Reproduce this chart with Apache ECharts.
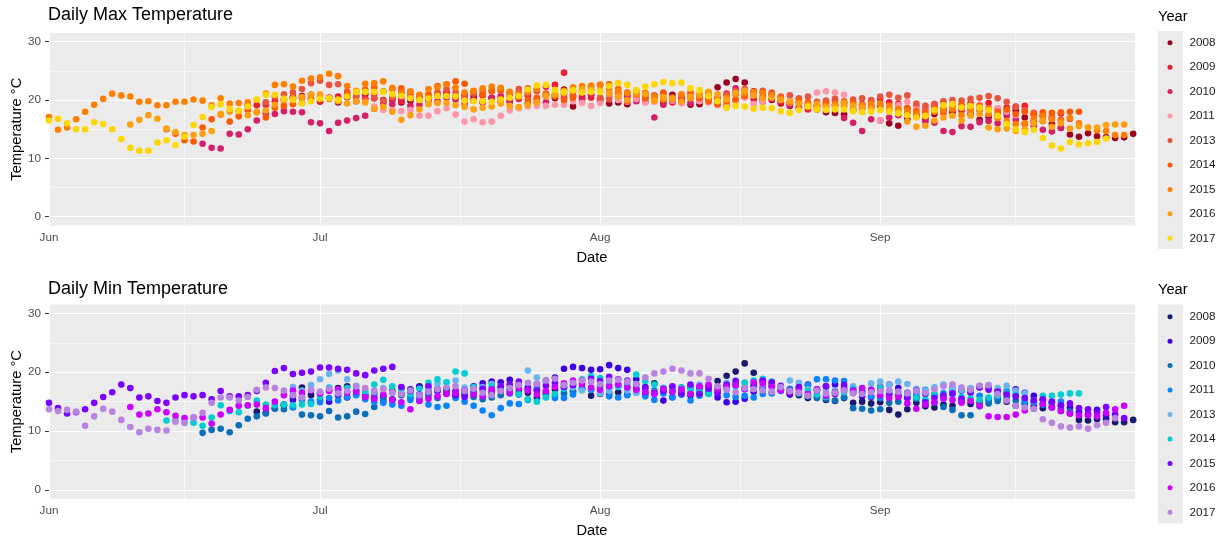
<!DOCTYPE html>
<html><head><meta charset="utf-8">
<script src="https://cdn.jsdelivr.net/npm/echarts@6/dist/echarts.min.js"></script>
<style>html,body{margin:0;padding:0;background:#fff}#c{width:1231px;height:541px}</style>
</head><body><div id="c"></div>
<script>
// Day index: 0 = 1 Jun, 30 = 1 Jul, 61 = 1 Aug, 92 = 1 Sep
const years = ['2008','2009','2010','2011','2013','2014','2015','2016','2017'];
const monthTicks = [0, 30, 61, 92];
const monthLabels = ['Jun', 'Jul', 'Aug', 'Sep'];
const tempTicks = [0, 10, 20, 30];

// ---- Daily max temperature (values start at the given start day) ----
const maxStartDay = [26, 22, 17, 36, 24, 13, 0, 9, 0];
const max2008 = [20.1,20.5,20.7,20.9,
 19.8,20.4,19.6,20.5,19.8,21.0,20.3,20.0,20.1,19.6,
 19.9,20.7,20.0,21.0,21.2,20.4,20.9,20.6,19.7,20.3,
 19.8,19.7,20.6,19.4,19.6,20.8,20.3,21.8,18.9,20.4,
 20.9,19.8,19.4,19.6,19.3,20.2,19.7,20.7,19.6,20.9,
 20.2,19.2,19.3,21.2,22.2,23.0,23.6,23.0,21.5,20.1,
 20.0,19.4,19.0,19.5,18.9,18.4,17.9,17.8,17.5,18.3,
 18.6,18.9,18.8,16.0,15.6,16.7,17.2,16.8,17.6,18.3,
 17.9,18.5,17.6,16.6,17.1,17.4,17.8,18.2,17.0,16.3,
 16.4,15.9,15.2,14.1,13.7,14.3,13.8,13.6,13.5,13.6,14.2];
const max2009 = [19.1,19.1,19.2,19.8,20.0,20.3,20.4,20.2,
 19.7,20.4,20.6,20.9,20.7,20.3,21.1,19.5,20.1,19.8,
 20.4,20.7,20.3,20.9,21.3,20.6,20.2,20.0,20.8,20.4,
 20.2,20.7,21.2,20.8,21.8,22.3,22.6,24.7,21.5,20.6,
 20.4,20.0,21.2,20.4,20.8,20.5,20.2,19.9,20.3,19.6,
 20.0,20.4,20.6,20.1,19.2,19.0,19.9,20.5,20.1,20.6,
 20.2,19.6,19.1,18.7,18.4,19.0,18.8,19.9,19.4,18.3,
 19.3,19.8,20.2,19.6,19.3,18.6,18.9,18.5,19.0,18.5,
 19.1,18.2,19.4,18.3,19.5,18.5,18.7,18.9,19.0,17.6,
 17.2,16.9,17.7,16.8];
const max2010 = [12.5,11.8,11.7,
 14.2,14.1,15.0,16.5,17.7,17.6,18.1,18.0,17.9,16.2,
 16.0,14.7,16.1,16.5,16.9,17.3,18.5,19.7,19.3,20.3,
 19.0,19.2,20.2,19.8,20.4,20.1,19.4,19.9,19.6,20.4,
 20.7,19.9,20.2,20.9,20.1,19.6,20.8,20.4,20.7,20.0,
 20.9,20.3,20.7,21.2,20.5,19.8,20.7,17.0,19.2,19.8,
 20.4,19.5,20.0,20.7,20.3,21.1,22.0,21.6,20.8,19.7,
 21.0,19.9,19.3,18.6,19.1,18.9,19.5,19.1,16.9,16.1,
 14.7,16.7,16.5,17.0,17.4,17.8,17.5,16.3,16.1,14.7,
 14.5,15.5,15.4,16.2,16.4,16.0,17.3,16.6,15.9,15.5,
 14.9,14.6,15.3];
const max2011 = [18.9,18.3,18.3,18.1,
 18.3,17.3,17.3,18.1,18.6,17.5,16.3,16.7,16.2,16.3,
 17.3,18.2,18.6,18.9,19.0,19.0,19.2,19.2,19.8,19.5,
 19.0,19.5,20.3,20.0,19.7,20.2,19.6,19.7,20.2,19.9,
 19.4,20.3,19.8,19.6,19.1,19.5,19.8,20.4,19.3,19.8,
 20.6,20.1,19.5,19.9,19.6,21.3,21.5,21.3,20.9,19.6,
 19.2,18.9,16.5,18.3,19.1,19.7,18.6,18.8,19.4,19.6,
 19.4,19.0,18.7,19.2,18.5,18.6,18.0,17.4];
const max2013 = [19.6,20.6,21.0,21.3,21.9,22.9,
 23.3,22.6,22.7,21.4,20.6,20.0,20.3,19.9,20.5,21.4,
 20.9,20.0,20.6,21.3,21.9,21.3,20.6,21.1,21.5,21.7,
 21.6,21.3,21.9,22.0,21.5,21.1,20.7,21.0,20.8,21.3,
 21.7,20.4,20.1,20.9,19.8,21.1,21.2,20.8,21.3,20.1,
 20.6,21.4,21.0,21.0,20.3,20.9,21.5,21.9,21.1,21.6,
 21.3,20.6,20.8,20.3,20.6,19.7,19.9,20.2,19.8,20.1,
 20.3,20.0,20.6,20.9,20.4,20.8,19.4,19.0,19.3,19.8,
 20.0,19.9,20.2,20.4,20.7,20.3,19.7,18.8,18.3,17.8,
 17.4,17.0,16.6];
const max2014 = [15.0,14.2,13.1,12.9,15.3,16.7,17.5,
 16.3,17.2,18.3,17.9,17.0,18.7,19.0,19.3,19.5,20.1,
 20.6,20.2,19.9,21.0,21.4,21.8,22.2,21.5,21.9,22.0,
 21.4,20.7,21.0,22.4,22.7,23.2,22.8,21.5,20.9,21.5,
 21.8,21.2,20.5,20.1,20.4,21.0,20.6,20.0,20.4,21.6,
 22.3,22.6,22.7,21.9,21.3,21.6,20.3,20.0,21.1,20.4,
 19.8,20.8,20.3,19.8,19.3,19.7,20.1,20.7,20.9,21.3,
 20.9,20.4,19.6,19.9,19.6,18.9,19.4,19.1,18.9,19.6,
 19.1,18.7,19.3,18.5,18.2,18.6,18.1,17.9,18.6,17.7,
 18.4,19.2,18.3,19.0,18.5,18.0,18.4,17.6,18.0,17.5,
 17.9,17.8,17.9,18.0,18.0];
const max2015 = [17.1,14.9,15.3,16.7,18.0,19.2,20.2,21.1,20.8,20.6,
 19.7,19.8,19.1,19.1,19.7,19.7,20.1,19.9,19.1,20.3,
 19.4,19.5,19.6,20.0,21.1,22.6,22.7,22.3,23.3,23.7,
 23.9,24.5,24.1,22.4,21.6,22.8,22.9,23.2,22.1,21.2,
 21.5,20.9,21.9,22.2,22.7,22.1,21.3,21.6,22.0,22.3,
 22.1,21.4,21.0,21.3,21.9,20.8,20.9,21.6,22.2,22.4,
 22.5,22.6,22.0,21.5,21.2,20.9,21.1,20.6,20.1,20.4,
 21.0,20.3,20.8,20.5,20.0,20.4,20.9,21.2,21.4,21.2,
 20.8,20.2,19.7,19.5,19.3,19.1,19.0,19.3,19.6,19.2,
 19.0,19.3,19.4,19.0,18.5,18.1,17.6,17.2,18.0,18.4,
 18.7,17.4,18.1,18.3,17.6,16.9,16.4,15.9,16.0,16.8,
 17.2,16.7,16.4,16.9,16.0,15.3,14.8,14.7,14.0,14.0];
const max2016 = [15.8,16.6,17.4,16.8,15.1,14.5,14.0,14.0,14.2,14.7,17.6,
 18.0,18.1,17.4,17.9,18.2,19.2,20.0,20.3,20.5,20.9,
 21.0,20.3,19.8,19.4,19.8,19.6,18.5,18.8,18.0,16.6,
 17.4,18.4,19.3,19.5,19.5,19.1,18.8,18.4,18.7,18.9,
 19.4,19.0,18.8,19.2,19.6,20.6,21.0,21.2,21.6,21.9,
 21.8,21.6,21.1,20.6,20.0,21.3,21.0,19.9,20.5,20.2,
 19.7,20.5,20.9,21.4,21.0,20.1,21.2,21.6,20.8,20.3,
 20.4,20.0,19.8,19.4,18.9,19.3,18.7,18.9,19.4,19.0,
 18.7,18.5,18.4,18.3,17.8,16.3,15.4,15.6,16.5,17.0,
 17.3,16.5,17.3,17.6,15.3,15.0,15.1,14.7,15.0,16.0,
 16.4,15.4,16.0,15.1,15.5,15.3,15.3,15.7,15.8,15.8];
const max2017 = [16.5,16.8,16.0,15.0,15.0,16.2,15.9,15.0,13.3,11.8,
 11.3,11.3,12.7,13.1,12.3,13.7,15.7,17.1,18.8,19.3,
 18.5,18.2,18.9,20.1,20.9,20.9,20.2,20.0,19.4,19.8,
 20.2,20.3,20.1,20.6,21.4,21.4,21.4,21.4,21.0,20.7,
 20.3,20.0,20.3,20.7,20.7,20.6,19.9,19.8,19.8,19.7,
 20.1,20.4,20.7,21.8,22.5,22.6,21.7,21.4,21.7,21.3,
 21.4,21.4,22.4,22.9,22.6,21.7,22.3,22.7,23.1,22.9,
 23.0,22.0,21.7,20.7,19.8,18.7,19.0,18.9,18.5,18.7,
 18.6,18.1,17.8,18.3,18.9,18.4,18.3,18.4,18.4,18.1,
 17.9,18.0,18.3,18.0,17.7,17.4,17.0,17.3,18.3,19.1,
 19.3,18.7,19.0,18.7,18.3,17.3,15.9,15.0,14.5,14.9,
 13.5,12.2,11.7,12.8,12.4,12.6,12.8,13.4];

// ---- Daily min temperature ----
const minStartDay = [23, 26, 17, 27, 27, 13, 0, 9, 0];
const min2008 = [13.3,13.1,13.9,14.4,16.0,17.4,16.1,
 16.4,16.9,17.3,17.6,16.8,16.2,16.4,15.9,16.8,17.4,
 16.9,17.6,16.5,17.1,17.0,16.2,16.8,17.5,17.3,16.4,
 17.4,17.0,16.7,16.5,15.6,16.3,17.1,17.4,16.8,17.3,
 16.0,16.3,16.4,16.6,16.2,17.2,16.3,18.1,16.9,17.0,
 17.4,16.1,16.4,17.6,18.5,19.4,20.1,21.5,19.9,18.6,
 17.8,17.0,16.3,16.1,15.6,15.9,15.3,15.1,15.6,14.8,
 15.0,14.7,14.9,13.6,12.8,13.7,14.8,14.2,14.0,14.5,
 14.3,15.1,14.6,14.8,15.3,15.6,15.0,14.3,14.8,14.2,
 13.9,14.0,13.4,13.0,11.9,11.8,12.0,12.1,11.5,11.5,11.9];
const min2009 = [14.5,15.3,15.7,14.8,
 15.3,15.0,16.1,15.7,16.3,15.9,15.6,15.1,15.4,16.3,
 17.1,17.5,16.9,16.8,17.2,16.8,16.2,17.6,18.1,18.4,
 18.3,18.7,17.8,17.4,18.0,18.6,19.1,20.6,20.9,20.7,
 20.4,20.5,21.2,20.7,20.4,18.8,17.5,16.4,15.2,15.8,
 16.7,17.5,17.2,16.9,15.7,14.9,15.0,15.5,16.7,17.4,
 17.6,16.9,16.2,17.2,17.9,17.1,17.6,17.9,17.3,16.5,
 15.9,15.8,17.5,17.9,17.3,16.5,15.9,16.3,16.1,15.6,
 16.4,16.9,17.2,17.4,17.5,16.9,16.4,17.1,16.5,16.0,
 15.3,14.9,14.4,14.0,13.2,12.9,13.6,12.7];
const min2010 = [9.7,10.2,10.4,
 9.8,11.0,12.1,12.5,13.0,13.8,13.7,14.1,12.8,12.7,
 12.5,13.4,12.3,12.5,13.3,12.9,14.1,15.5,15.3,16.1,
 15.7,15.2,16.0,15.6,16.4,15.9,16.5,15.8,15.4,15.7,
 16.1,16.4,16.2,17.0,17.3,16.6,16.0,16.4,16.7,17.2,
 17.0,17.6,17.4,17.8,17.5,17.1,16.7,16.9,17.3,16.8,
 16.2,16.4,16.8,16.4,16.7,17.6,18.0,17.3,17.6,17.0,
 16.6,17.0,16.8,16.3,15.9,15.6,15.5,15.2,15.7,13.9,
 13.8,13.5,13.7,14.8,15.0,16.1,15.5,15.2,14.8,14.1,
 13.6,12.7,12.7,14.2,14.7,15.1,15.6,15.2,14.6,14.9,
 14.5,14.3,13.8,13.3];
const min2011 = [14.0,15.3,15.0,
 14.9,15.6,15.2,15.8,16.1,15.4,15.0,14.8,14.5,14.3,
 15.3,15.7,14.5,14.1,14.3,15.6,15.0,14.3,13.5,12.7,
 13.9,14.7,14.6,15.3,17.0,15.8,15.6,15.6,16.2,17.0,
 17.0,16.7,15.9,15.7,16.1,16.5,15.9,15.3,16.4,15.7,
 16.2,15.2,16.0,16.4,16.8,16.1,15.8,16.0,15.7,16.3,
 16.4,16.8,17.2,17.5,17.8,18.8,18.8,18.6,18.5,17.3,
 16.7,15.9,15.6,16.2,16.0,15.7,16.5,17.0,16.2,16.4,
 17.2,16.9,16.5,16.0,15.5,15.9,16.8,16.3,15.1,14.9,
 14.5,14.8,15.0];
const min2013 = [17.5,16.9,17.8,
 18.8,19.7,20.3,18.8,17.7,17.0,16.6,17.3,16.5,17.1,
 16.5,16.2,17.2,18.1,18.3,18.6,17.4,16.8,17.5,18.0,
 17.6,17.7,17.9,20.3,19.1,18.5,17.6,17.9,17.4,16.9,
 17.3,16.4,16.8,17.5,16.9,16.5,16.8,16.6,17.0,17.4,
 16.6,17.8,17.9,17.1,17.5,18.2,18.6,18.3,17.6,17.9,
 18.0,17.4,18.6,18.2,17.1,16.7,17.0,16.9,16.8,17.6,
 17.2,18.1,18.4,17.9,18.4,18.0,17.2,16.9,17.5,17.9,
 17.4,17.0,17.3,17.7,17.8,17.3,17.7,16.9,16.4];
const min2014 = [11.8,11.8,11.4,11.4,10.9,12.3,14.4,
 13.4,13.2,14.3,15.2,14.5,14.4,14.5,14.4,14.5,14.6,
 15.8,17.4,16.9,17.3,17.0,16.6,17.9,18.7,17.6,17.1,
 16.3,17.2,18.2,18.8,18.3,20.1,19.8,17.5,16.9,17.6,
 17.2,16.6,16.3,15.4,15.0,15.7,16.3,17.2,17.9,18.8,
 19.3,19.0,18.4,17.6,18.1,19.6,18.5,17.9,17.3,16.9,
 17.4,17.0,16.7,16.3,16.8,17.2,17.6,18.1,18.6,18.9,
 18.4,17.2,16.9,16.5,16.8,16.2,15.8,16.4,16.6,17.1,
 16.7,16.9,17.3,16.8,16.2,16.1,15.7,15.3,16.1,15.6,
 16.3,15.8,15.5,15.3,15.7,16.0,16.4,16.1,15.6,15.2,
 16.0,16.0,16.2,16.4,16.4];
const min2015 = [14.8,13.9,13.0,13.2,13.7,14.8,15.8,16.6,17.9,17.3,
 15.7,15.9,15.1,14.8,15.7,16.1,15.9,16.1,15.4,16.8,
 15.9,15.9,16.1,16.8,18.2,20.2,20.7,19.7,19.9,20.1,
 20.8,20.8,20.6,20.4,19.8,19.5,20.3,20.6,20.9,17.5,
 16.8,16.2,17.6,16.9,16.4,16.1,15.8,16.6,17.2,16.9,
 17.6,17.9,18.4,17.1,16.9,17.7,18.2,17.5,17.8,18.6,
 18.9,18.5,19.2,18.8,18.6,17.9,17.3,16.5,16.8,17.6,
 16.4,17.9,16.3,17.2,16.4,17.9,18.5,17.1,17.8,18.6,
 18.3,17.7,16.9,17.5,16.2,16.9,17.6,16.3,17.8,16.9,
 16.5,17.0,16.8,16.3,16.0,15.6,16.9,14.9,15.6,16.0,
 16.4,15.5,16.6,17.5,17.0,16.7,16.2,15.9,15.6,15.2,
 15.4,15.0,14.4,14.7,13.9,13.7,13.1,14.1,12.8,12.2];
const min2016 = [14.1,12.8,13.0,13.7,13.2,12.6,12.2,12.3,12.3,11.3,12.8,
 13.6,14.3,14.4,14.5,13.9,15.0,16.1,16.9,16.5,16.9,
 16.4,16.8,17.1,16.5,16.7,15.8,15.5,16.2,15.3,14.9,
 13.7,15.1,15.5,15.9,16.3,16.5,16.9,16.2,15.9,17.1,
 16.8,16.5,17.3,16.9,16.2,16.8,17.5,18.1,18.6,18.0,
 17.4,17.0,17.6,17.9,17.4,17.0,16.6,16.3,17.2,16.7,
 17.1,16.3,17.6,17.9,17.1,17.5,17.8,17.2,18.3,18.1,
 17.5,16.9,16.6,16.8,16.3,17.1,16.0,16.6,17.0,16.8,
 17.3,16.9,16.1,15.6,15.8,14.7,13.8,14.5,14.9,15.5,
 15.3,14.8,15.1,14.3,12.5,12.4,12.4,12.8,13.5,13.8,
 14.6,14.0,13.4,13.0,12.7,12.7,12.5,13.1,13.7,14.3];
const min2017 = [13.7,13.4,13.6,13.3,10.9,12.5,13.8,13.3,11.9,10.7,
 9.8,10.4,10.2,10.1,11.6,11.4,12.3,13.1,14.8,15.7,
 15.7,15.2,15.8,17.0,17.4,17.3,16.9,16.1,15.7,17.0,
 16.7,17.2,16.4,16.8,17.6,17.3,16.9,17.1,16.6,16.3,
 16.9,16.1,16.7,17.1,17.4,17.6,16.8,17.2,16.5,16.1,
 16.8,17.3,17.8,18.2,18.0,18.6,18.9,17.8,18.2,18.6,
 18.4,18.0,18.6,18.7,18.4,18.0,19.1,19.8,20.1,20.6,
 20.3,19.8,19.8,18.9,17.6,17.0,16.6,17.3,17.1,16.9,
 16.7,17.5,16.8,16.5,16.0,16.9,16.4,16.5,16.9,16.4,
 16.3,16.6,16.8,16.9,16.7,16.4,16.8,16.5,17.1,17.6,
 17.9,17.4,17.0,17.7,17.8,16.3,15.2,14.3,14.0,13.8,
 12.0,11.4,10.8,10.6,10.8,10.4,11.0,11.4,12.2];

const maxValues = [max2008, max2009, max2010, max2011, max2013, max2014, max2015, max2016, max2017];
const minValues = [min2008, min2009, min2010, min2011, min2013, min2014, min2015, min2016, min2017];
const maxColors = ['#9E0022','#EE1C2F','#D61F69','#FF96A8','#E8553F','#FF5A00','#FF8000','#FFA010','#FFD700'];
const minColors = ['#191970','#3F00E0','#0A6EB8','#0A84FF','#6CB4F0','#00CED1','#7B00FF','#CC00FF','#B983E0'];

function toPoints(start, vals) {
  const out = [];
  vals.forEach((v, i) => { if (v != null) out.push([start + i, v]); });
  return out;
}

const FONT = '"Liberation Sans", Arial, sans-serif';
const chart = echarts.init(document.getElementById('c'), null, { renderer: 'canvas' });

function gridLines(xi) {
  const major = { color: '#FFFFFF', width: 1.2, type: 'solid' };
  const minor = { color: '#FFFFFF', width: 0.6, type: 'solid' };
  const d = [];
  monthTicks.forEach(v => d.push({ xAxis: v, lineStyle: major }));
  [15, 45.5, 76.5, 107].forEach(v => d.push({ xAxis: v, lineStyle: minor }));
  tempTicks.forEach(v => d.push({ yAxis: v, lineStyle: major }));
  [5, 15, 25].forEach(v => d.push({ yAxis: v, lineStyle: minor }));
  return {
    type: 'scatter', xAxisIndex: xi, yAxisIndex: xi, data: [], silent: true, z: 1,
    markLine: { z: 1, silent: true, symbol: ['none', 'none'], label: { show: false }, animation: false, data: d }
  };
}

const series = [gridLines(0), gridLines(1)];
years.forEach((y, k) => {
  series.push({
    name: 'Max ' + y, type: 'scatter', xAxisIndex: 0, yAxisIndex: 0, z: 3,
    symbolSize: 6.6, itemStyle: { color: maxColors[k], opacity: 1 },
    data: toPoints(maxStartDay[k], maxValues[k])
  });
});
years.forEach((y, k) => {
  series.push({
    name: 'Min ' + y, type: 'scatter', xAxisIndex: 1, yAxisIndex: 1, z: 3,
    symbolSize: 6.6, itemStyle: { color: minColors[k], opacity: 1 },
    data: toPoints(minStartDay[k], minValues[k])
  });
});

function xAxisCfg(gi) {
  return {
    gridIndex: gi, type: 'value', min: 0, max: 120.2,
    axisLine: { show: false },
    axisTick: { show: true, length: 4, lineStyle: { color: '#333333', width: 1 }, customValues: monthTicks },
    axisLabel: { customValues: monthTicks, formatter: v => monthLabels[monthTicks.indexOf(v)] || '',
      color: '#4D4D4D', fontSize: 11.7, margin: 6, fontFamily: FONT },
    splitLine: { show: false },
    name: 'Date', nameLocation: 'middle', nameGap: 25,
    nameTextStyle: { color: '#000000', fontSize: 14.7, fontFamily: FONT }
  };
}
function yAxisCfg(gi) {
  return {
    gridIndex: gi, type: 'value', min: -1.5, max: 31.5,
    axisLine: { show: false },
    axisTick: { show: true, length: 4, lineStyle: { color: '#333333', width: 1 }, customValues: tempTicks },
    axisLabel: { customValues: tempTicks, color: '#4D4D4D', fontSize: 11.7, margin: 8, fontFamily: FONT },
    splitLine: { show: false },
    name: 'Temperature °C', nameLocation: 'middle', nameGap: 25, nameRotate: 90, nameMoveOverlap: false,
    nameTextStyle: { color: '#000000', fontSize: 14.7, fontFamily: FONT }
  };
}

function legendCfg(prefix, top) {
  return {
    data: years.map(y => prefix + y), orient: 'vertical', left: 1167.5, top: top,
    padding: 0, itemGap: 10.45, itemWidth: 5, itemHeight: 5, icon: 'circle',
    formatter: n => n.slice(-4), selectedMode: false,
    textStyle: { color: '#1A1A1A', fontSize: 11.7, lineHeight: 14, fontFamily: FONT, padding: [0, 0, 0, 12] }
  };
}

chart.setOption({
  animation: false,
  backgroundColor: '#FFFFFF',
  textStyle: { fontFamily: FONT },
  title: [
    { text: 'Daily Max Temperature', left: 48, top: 6.5, padding: 0, textStyle: { fontSize: 18, fontWeight: 'normal', color: '#000000', fontFamily: FONT } },
    { text: 'Daily Min Temperature', left: 48, top: 280, padding: 0, textStyle: { fontSize: 18, fontWeight: 'normal', color: '#000000', fontFamily: FONT } },
    { text: 'Year', left: 1158, top: 9, padding: 0, textStyle: { fontSize: 14.7, fontWeight: 'normal', color: '#000000', fontFamily: FONT } },
    { text: 'Year', left: 1158, top: 282.5, padding: 0, textStyle: { fontSize: 14.7, fontWeight: 'normal', color: '#000000', fontFamily: FONT } }
  ],
  graphic: [
    { type: 'rect', z: 0, silent: true, shape: { x: 1158, y: 31, width: 25, height: 218 }, style: { fill: '#EBEBEB' } },
    { type: 'rect', z: 0, silent: true, shape: { x: 1158, y: 304.5, width: 25, height: 219 }, style: { fill: '#EBEBEB' } }
  ],
  legend: [legendCfg('Max ', 35.7), legendCfg('Min ', 309.7)],
  grid: [
    { left: 49, top: 33, width: 1086, height: 192.4, show: true, backgroundColor: '#EBEBEB', borderWidth: 0, outerBoundsMode: 'none' },
    { left: 49, top: 304.5, width: 1086, height: 194.3, show: true, backgroundColor: '#EBEBEB', borderWidth: 0, outerBoundsMode: 'none' }
  ],
  xAxis: [xAxisCfg(0), xAxisCfg(1)],
  yAxis: [yAxisCfg(0), yAxisCfg(1)],
  series: series
});
</script>
</body></html>
